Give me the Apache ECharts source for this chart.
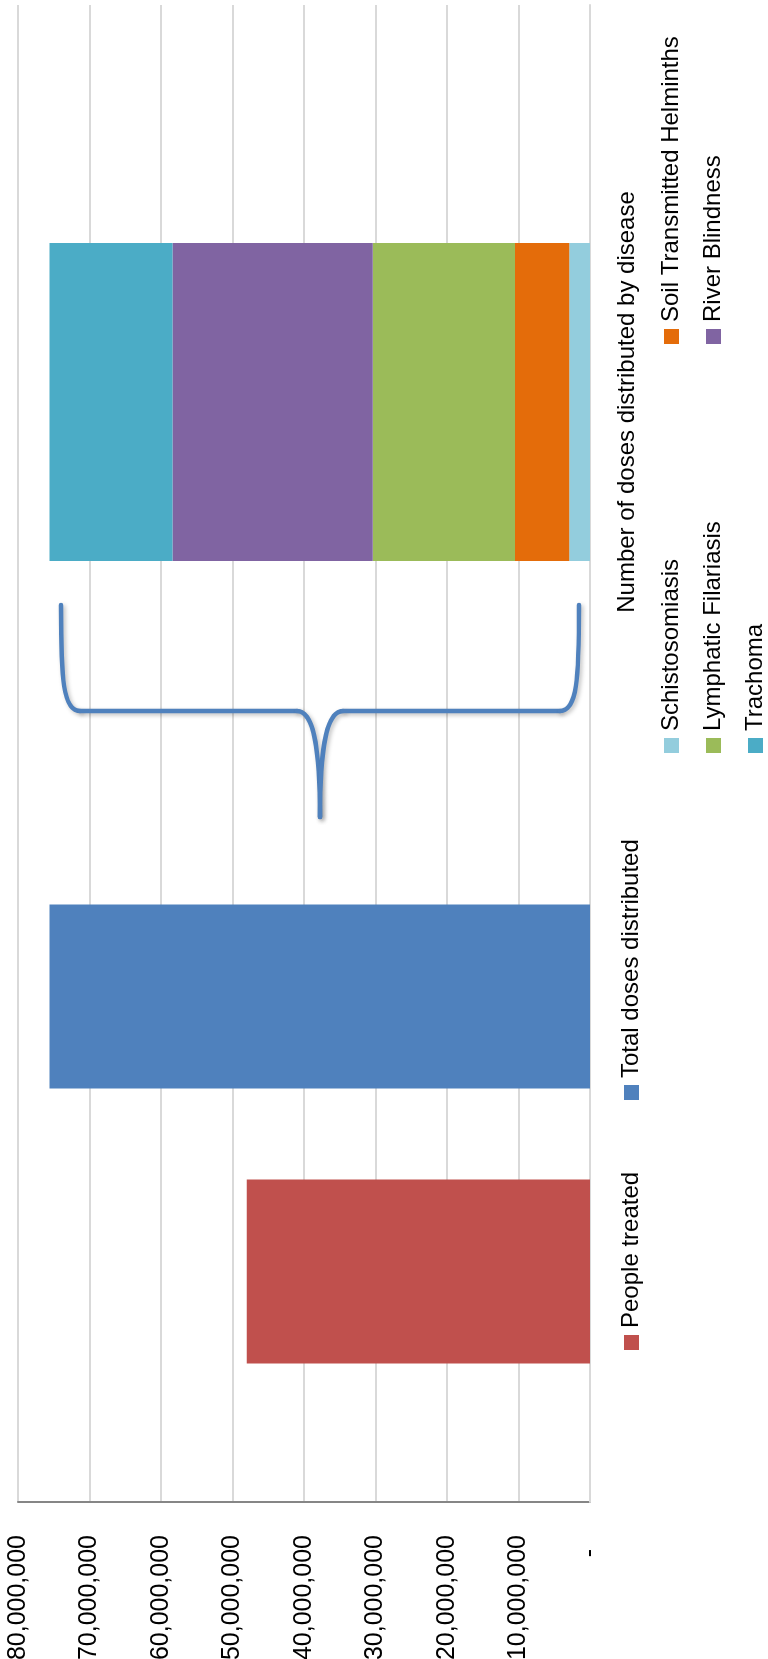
<!DOCTYPE html>
<html>
<head>
<meta charset="utf-8">
<script src="https://cdn.jsdelivr.net/npm/echarts@6/dist/echarts.min.js"></script>
<style>
  html, body { margin: 0; padding: 0; background: #ffffff; overflow: hidden; width: 768px; height: 1659px; }
  /* The chart is laid out as a landscape column chart and turned a quarter turn counter-clockwise. */
  #chart { position: absolute; left: 0; top: 0; width: 1659px; height: 768px;
           transform-origin: 0 0; transform: translateY(1659px) rotate(-90deg); }
</style>
</head>
<body>
<div id="chart"></div>
<script>
// Overall totals
const overviewCategories = ['People treated', 'Total doses distributed'];
const overviewValues = [48000000, 75600000];
const overviewColors = ['#c0504d', '#4f81bd'];

// Doses broken down by disease (stacked)
const diseaseCategory = ['Number of doses distributed by disease'];
const diseaseNames = ['Schistosomiasis', 'Soil Transmitted Helminths', 'Lymphatic Filariasis', 'River Blindness', 'Trachoma'];
const diseaseDoses = [2900000, 7600000, 19900000, 28000000, 17200000];
const diseaseColors = ['#93cddd', '#e46c0a', '#9bbb59', '#8064a2', '#4bacc6'];

// Value axis range
const valueMin = 0;
const valueMax = 80000000;
const valueStep = 10000000;

const labelFont = 'Liberation Sans, Arial, sans-serif';

const chart = echarts.init(document.getElementById('chart'), null, { renderer: 'canvas' });

const plotTop = 18;
const plotBottom = 178;

const hiddenValueAxis = (gridIndex) => ({
  gridIndex, type: 'value', min: valueMin, max: valueMax, interval: valueStep, show: false
});

const overviewSeries = overviewCategories.map((name, i) => ({
  type: 'bar',
  name,
  xAxisIndex: 1,
  yAxisIndex: 1,
  stack: 'overview',
  barWidth: 184,
  itemStyle: { color: overviewColors[i] },
  data: overviewCategories.map((_, j) => (j === i ? overviewValues[i] : null))
}));

const diseaseSeries = diseaseNames.map((name, i) => ({
  type: 'bar',
  name,
  xAxisIndex: 2,
  yAxisIndex: 2,
  stack: 'disease',
  barWidth: 318,
  itemStyle: { color: diseaseColors[i] },
  data: [diseaseDoses[i]]
}));

const legendCommon = {
  icon: 'rect',
  itemWidth: 15,
  itemHeight: 15,
  padding: 0,
  textStyle: { fontSize: 24, fontFamily: labelFont, color: '#000000', padding: [0, 0, 0, 2] }
};

// Curly brace joining the total bar to its per-disease breakdown
const braceStyle = {
  fill: null, stroke: '#4f81bd', lineWidth: 4.5, lineCap: 'round',
  shadowBlur: 4, shadowColor: 'rgba(0,0,0,0.25)', shadowOffsetX: -2, shadowOffsetY: 2
};
const braceCurve = (x1, y1, cpx1, cpy1, cpx2, cpy2, x2, y2) => ({
  type: 'bezierCurve', z: 100,
  shape: { x1, y1, cpx1, cpy1, cpx2, cpy2, x2, y2 },
  style: braceStyle
});
const braceLine = (x1, y1, x2, y2) => ({
  type: 'line', z: 100, shape: { x1, y1, x2, y2 }, style: braceStyle
});

chart.setOption({
  animation: false,
  backgroundColor: '#ffffff',
  grid: [
    { left: 157, right: 5, top: plotTop, bottom: plotBottom, outerBoundsMode: 'none', containLabel: false },
    { left: 250, width: 550, top: plotTop, bottom: plotBottom, outerBoundsMode: 'none', containLabel: false },
    { left: 1007, width: 500, top: plotTop, bottom: plotBottom, outerBoundsMode: 'none', containLabel: false }
  ],
  xAxis: [
    {
      gridIndex: 0, type: 'category', data: [''],
      axisLine: { lineStyle: { color: '#d9d9d9', width: 2 } },
      axisTick: { show: false }, axisLabel: { show: false }, splitLine: { show: false }
    },
    {
      gridIndex: 1, type: 'category', data: overviewCategories,
      axisLine: { show: false }, axisTick: { show: false }, axisLabel: { show: false }
    },
    {
      gridIndex: 2, type: 'category', data: diseaseCategory,
      axisLine: { show: false }, axisTick: { show: false },
      axisLabel: { margin: 25, fontSize: 24, fontFamily: labelFont, color: '#000000' }
    }
  ],
  yAxis: [
    {
      gridIndex: 0, type: 'value', min: valueMin, max: valueMax, interval: valueStep,
      axisLine: { show: true, lineStyle: { color: '#868686', width: 2 } },
      axisTick: { show: false },
      splitLine: { lineStyle: { color: '#d9d9d9', width: 2 } },
      axisLabel: {
        margin: 33, fontSize: 25, fontFamily: labelFont, color: '#000000',
        padding: [7, 0, 0, 0],
        formatter: (v) => (v === 0 ? '-  ' : v.toLocaleString('en-US'))
      }
    },
    hiddenValueAxis(1),
    hiddenValueAxis(2)
  ],
  legend: [
    Object.assign({ data: ['People treated'], left: 309, top: 619.5 }, legendCommon),
    Object.assign({ data: ['Total doses distributed'], left: 559, top: 619.5 }, legendCommon),
    Object.assign({ data: ['Schistosomiasis', 'Lymphatic Filariasis', 'Trachoma'], orient: 'vertical',
                    left: 906, top: 659.5, itemGap: 18 }, legendCommon),
    Object.assign({ data: ['Soil Transmitted Helminths', 'River Blindness'], orient: 'vertical',
                    left: 1315, top: 659.5, itemGap: 18 }, legendCommon)
  ],
  graphic: [
    braceCurve(1054, 61, 979, 61, 948, 63, 948, 80),
    braceLine(948, 80, 948, 297),
    braceCurve(948, 297, 948, 312, 919, 320, 842, 320),
    braceCurve(842, 320, 919, 320, 948, 328, 948, 343),
    braceLine(948, 343, 948, 560),
    braceCurve(948, 560, 948, 577, 979, 579, 1054, 579)
  ],
  series: overviewSeries.concat(diseaseSeries)
});
</script>
</body>
</html>
